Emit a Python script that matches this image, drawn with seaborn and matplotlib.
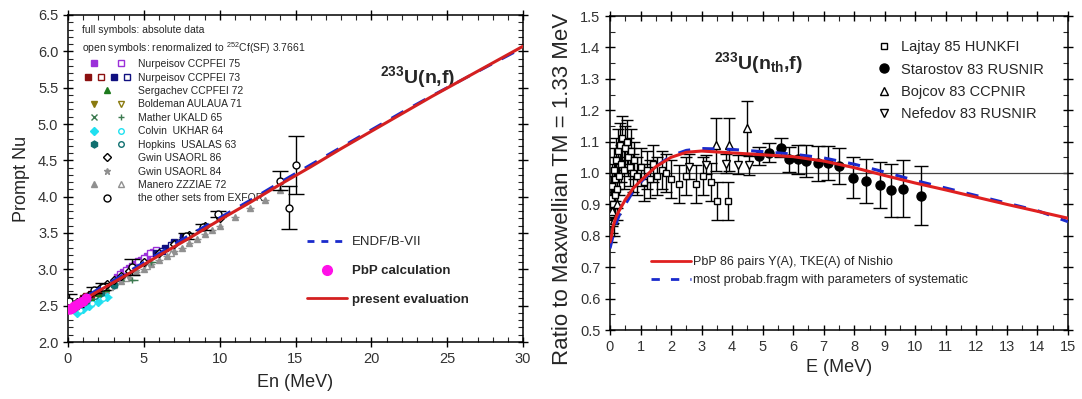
import numpy as np
import pandas as pd
import matplotlib
matplotlib.use("Agg")
import matplotlib.pyplot as plt
from matplotlib.lines import Line2D
from matplotlib.legend_handler import HandlerTuple
from matplotlib.ticker import MultipleLocator
import seaborn as sns

sns.set_style("ticks")
plt.rcParams['font.family'] = ['Liberation Sans', 'DejaVu Sans']
plt.rcParams['mathtext.fontset'] = 'custom'
plt.rcParams['mathtext.rm'] = 'Liberation Sans'
plt.rcParams['mathtext.bf'] = 'Liberation Sans:bold'
plt.rcParams['mathtext.it'] = 'Liberation Sans:italic'

# ================= LEFT PANEL DATA: prompt nu of 233U(n,f) =================
E_eval = [0, 1, 2, 4, 6, 8, 10, 12, 14, 16, 18, 20, 22, 24, 26, 28, 30]
nu_eval = [2.46, 2.58, 2.70, 2.94, 3.19, 3.43, 3.68, 3.92, 4.17, 4.41, 4.66, 4.90, 5.14, 5.38, 5.61, 5.84, 6.07]
nu_endf = [2.47, 2.60, 2.73, 2.97, 3.22, 3.47, 3.71, 3.95, 4.20, 4.44, 4.68, 4.92, 5.16, 5.39, 5.61, 5.83, 6.05]

E_pbp = [0.0, 0.1, 0.25, 0.4, 0.55, 0.7, 0.85, 1.0, 1.2]
nu_pbp = [2.45, 2.46, 2.47, 2.49, 2.51, 2.53, 2.55, 2.57, 2.60]

E_man = [0.5, 1.0, 1.5, 2.0, 2.5, 3.0, 3.5, 4.0, 4.5, 5.0, 5.5, 6.0, 6.5, 7.0, 7.5, 8.0, 8.5, 9.0, 9.5, 10.0, 11.0, 12.0, 13.0, 14.0]
nu_man = [2.48, 2.55, 2.60, 2.66, 2.72, 2.78, 2.84, 2.90, 2.96, 3.01, 3.07, 3.13, 3.19, 3.25, 3.30, 3.36, 3.42, 3.48, 3.54, 3.60, 3.72, 3.84, 3.96, 4.09]
E_man_o = [0.8, 1.8, 2.8, 3.8, 5.2, 6.8]
nu_man_o = [2.53, 2.64, 2.76, 2.88, 3.04, 3.23]

E_nur75 = [3.2, 3.6, 4.0, 4.4, 4.8, 5.2, 5.6]
nu_nur75 = [2.90, 2.96, 3.02, 3.07, 3.13, 3.19, 3.24]
E_nur75_o = [3.4, 3.8, 4.2, 4.6, 5.0, 5.4, 5.8]
nu_nur75_o = [2.93, 2.99, 3.05, 3.11, 3.16, 3.22, 3.27]

E_nur73_r = [1.0, 1.5, 2.0]
nu_nur73_r = [2.60, 2.66, 2.72]
E_nur73_ro = [1.2, 1.8]
nu_nur73_ro = [2.63, 2.70]
E_nur73_b = [5.8, 6.4, 7.0, 7.6]
nu_nur73_b = [3.22, 3.29, 3.37, 3.44]
E_nur73_bo = [6.2, 6.8]
nu_nur73_bo = [3.25, 3.33]

E_serg = [0.5, 1.0, 1.5, 2.0, 2.5]
nu_serg = [2.50, 2.55, 2.62, 2.68, 2.74]

E_bold = [0.2, 0.5, 0.9, 1.3]
nu_bold = [2.47, 2.51, 2.56, 2.61]
E_bold_o = [0.3, 0.7, 1.1]
nu_bold_o = [2.48, 2.53, 2.59]

E_math_x = [1.5, 2.5, 3.5]
nu_math_x = [2.63, 2.76, 2.88]
E_math_p = [4.2, 5.5]
nu_math_p = [2.86, 3.10]

E_colv = [0.6, 1.0, 1.4, 2.0, 2.6]
nu_colv = [2.40, 2.46, 2.50, 2.55, 2.62]
E_colv_o = [0.8, 1.6, 2.3]
nu_colv_o = [2.44, 2.53, 2.60]

E_hopk = [0.4, 1.2, 2.2, 3.0]
nu_hopk = [2.47, 2.56, 2.68, 2.78]
E_hopk_o = [0.8, 1.8]
nu_hopk_o = [2.52, 2.63]

E_gw86 = [0.1, 0.3, 0.6, 1.0, 1.4, 1.8, 2.2, 2.6, 3.0, 3.5, 4.0, 5.0, 6.0, 7.0, 8.0, 9.0, 10.0]
nu_gw86 = [2.49, 2.51, 2.55, 2.60, 2.65, 2.70, 2.75, 2.80, 2.85, 2.91, 2.98, 3.10, 3.22, 3.35, 3.47, 3.59, 3.71]

E_gw84 = [0.5, 1.5, 2.5, 3.5, 4.5]
nu_gw84 = [2.50, 2.62, 2.74, 2.86, 2.98]

E_exf = [0.05, 0.5, 1.7, 2.3, 4.2, 7.8, 8.9, 9.9, 14.0, 14.6, 15.0]
nu_exf = [2.56, 2.52, 2.72, 2.76, 3.03, 3.46, 3.58, 3.76, 4.22, 3.85, 4.43]
err_exf = [0.10, 0.04, 0.04, 0.05, 0.11, 0.04, 0.04, 0.04, 0.13, 0.30, 0.40]

# ================= RIGHT PANEL DATA: ratio to Maxwellian =================
E_pbp86 = [0, 0.05, 0.1, 0.2, 0.3, 0.5, 0.75, 1.0, 1.5, 2.0, 2.5, 3.0, 4.0, 5.0, 6.0, 7.0, 8.0, 9.0, 10.0, 11.0, 12.0, 13.0, 14.0, 15.0]
R_pbp86 = [0.78, 0.80, 0.83, 0.86, 0.88, 0.915, 0.95, 0.975, 1.02, 1.05, 1.066, 1.07, 1.064, 1.058, 1.052, 1.038, 1.017, 0.992, 0.968, 0.946, 0.923, 0.90, 0.878, 0.856]
R_mpf = [0.76, 0.78, 0.80, 0.84, 0.865, 0.90, 0.94, 0.97, 1.02, 1.055, 1.072, 1.078, 1.075, 1.068, 1.06, 1.048, 1.028, 1.003, 0.976, 0.952, 0.928, 0.904, 0.88, 0.845]

E_laj = [0.02, 0.04, 0.06, 0.08, 0.10, 0.12, 0.15, 0.18, 0.20, 0.23, 0.26, 0.30, 0.33, 0.37, 0.40, 0.45, 0.50, 0.55, 0.60, 0.65,
         0.70, 0.75, 0.80, 0.90, 1.00, 1.10, 1.20, 1.30, 1.40, 1.55, 1.70, 1.85, 2.00, 2.26, 2.50, 2.81, 3.05, 3.30, 3.52, 3.88]
R_laj = [0.84, 0.92, 0.87, 0.96, 0.90, 1.01, 0.93, 0.98, 1.04, 0.95, 1.07, 0.99, 1.09, 1.03, 1.11, 1.01, 1.08, 1.10, 1.05, 1.02,
         1.07, 1.00, 1.04, 0.99, 1.02, 0.97, 1.01, 0.98, 1.03, 0.99, 1.01, 1.00, 0.98, 0.964, 0.99, 0.964, 0.99, 0.971, 0.91, 0.91]
err_laj = [0.06, 0.07, 0.06, 0.07, 0.06, 0.07, 0.06, 0.07, 0.07, 0.06, 0.07, 0.06, 0.07, 0.06, 0.07, 0.06, 0.07, 0.07, 0.06, 0.06,
           0.07, 0.06, 0.06, 0.06, 0.06, 0.06, 0.06, 0.06, 0.06, 0.06, 0.06, 0.06, 0.06, 0.06, 0.06, 0.06, 0.06, 0.06, 0.06, 0.06]

E_star = [4.89, 5.22, 5.60, 5.87, 6.15, 6.42, 6.80, 7.13, 7.51, 7.95, 8.39, 8.83, 9.21, 9.60, 10.20]
R_star = [1.054, 1.064, 1.080, 1.043, 1.043, 1.038, 1.031, 1.032, 1.022, 0.985, 0.975, 0.961, 0.945, 0.950, 0.928]
err_star = [0.03, 0.03, 0.03, 0.04, 0.045, 0.05, 0.055, 0.055, 0.058, 0.066, 0.07, 0.074, 0.084, 0.09, 0.095]

E_boj = [0.05, 0.12, 0.22, 3.47, 3.90, 4.50]
R_boj = [0.88, 0.85, 0.90, 1.09, 1.09, 1.143]
err_boj = [0.05, 0.05, 0.05, 0.085, 0.085, 0.087]

E_nef = [2.60, 3.14, 3.80, 4.18, 4.56]
R_nef = [1.02, 1.027, 1.03, 1.027, 1.024]
err_nef = [0.04, 0.03, 0.03, 0.03, 0.03]

# ================= FIGURE =================
W, H = 1082, 399
fig = plt.figure(figsize=(W / 100, H / 100), dpi=100)
fig.patch.set_facecolor('white')
axL = fig.add_axes([68 / W, 1 - 342 / H, (523 - 68) / W, (342 - 15) / H])
axR = fig.add_axes([610 / W, 1 - 330 / H, (1068 - 610) / W, (330 - 16) / H])

PURPLE = '#9b30d9'
DRED = '#8b1010'
NAVY = '#101080'
GREEN = '#1d7a1d'
OLIVE = '#8a7a10'
MGREEN = '#3c7a50'
CYAN = '#20e0f0'
TEAL = '#107070'
GRAY = '#909090'


def pts(ax, x, y, marker, color, filled=True, ms=4.5, xerr=None, yerr=None, zorder=3, cap=0):
    ax.errorbar(x, y, xerr=xerr, yerr=yerr, fmt=marker, color=color, ms=ms,
                mfc=color if filled else 'white', mec=color, mew=1.0,
                elinewidth=1.0, capsize=cap, zorder=zorder, linestyle='none')


# ---- left panel points ----
pts(axL, E_man, nu_man, '^', GRAY, xerr=0.25)
pts(axL, E_man_o, nu_man_o, '^', GRAY, filled=False)
pts(axL, E_gw84, nu_gw84, '*', GRAY, ms=5)
pts(axL, E_colv, nu_colv, 'D', CYAN, ms=4, xerr=0.3)
pts(axL, E_colv_o, nu_colv_o, 'o', CYAN, filled=False, ms=4)
pts(axL, E_hopk, nu_hopk, 'h', TEAL, ms=5, xerr=0.3)
pts(axL, E_hopk_o, nu_hopk_o, 'o', TEAL, filled=False, ms=4)
pts(axL, E_serg, nu_serg, '^', GREEN)
pts(axL, E_bold, nu_bold, 'v', OLIVE)
pts(axL, E_bold_o, nu_bold_o, 'v', OLIVE, filled=False)
pts(axL, E_math_x, nu_math_x, 'x', MGREEN, xerr=0.4)
pts(axL, E_math_p, nu_math_p, '+', MGREEN, xerr=0.4)
pts(axL, E_nur75, nu_nur75, 's', PURPLE, ms=4, xerr=0.2)
pts(axL, E_nur75_o, nu_nur75_o, 's', PURPLE, filled=False, ms=4, xerr=0.2)
pts(axL, E_nur73_r, nu_nur73_r, 's', DRED, ms=4)
pts(axL, E_nur73_ro, nu_nur73_ro, 's', DRED, filled=False, ms=4)
pts(axL, E_nur73_b, nu_nur73_b, 's', NAVY, ms=4, xerr=0.3)
pts(axL, E_nur73_bo, nu_nur73_bo, 's', NAVY, filled=False, ms=4)
pts(axL, E_gw86, nu_gw86, 'D', 'black', filled=False, ms=4, xerr=0.15)
pts(axL, E_exf, nu_exf, 'o', 'black', filled=False, ms=5, yerr=err_exf, cap=6, zorder=4)

sns.lineplot(x=E_eval, y=nu_endf, ax=axL, color='#1a2acc', linewidth=2.0,
             linestyle=(0, (5, 4)), zorder=5)
sns.lineplot(x=E_eval, y=nu_eval, ax=axL, color='#d42020', linewidth=2.2, zorder=6)
sns.scatterplot(x=E_pbp, y=nu_pbp, ax=axL, color='#ff10e8', s=45, edgecolor='#ff10e8', zorder=7)

axL.set_xlim(0, 30)
axL.set_ylim(2.0, 6.5)
axL.xaxis.set_major_locator(MultipleLocator(5))
axL.xaxis.set_minor_locator(MultipleLocator(1))
axL.yaxis.set_major_locator(MultipleLocator(0.5))
axL.yaxis.set_minor_locator(MultipleLocator(0.1))
axL.yaxis.set_major_formatter(matplotlib.ticker.FormatStrFormatter('%.1f'))
axL.set_xlabel('En (MeV)', fontsize=13, labelpad=6)
axL.set_ylabel('Prompt Nu', fontsize=13, labelpad=6)
axL.text(0.685, 0.81, r'$\mathbf{^{233}}$U(n,f)', transform=axL.transAxes,
         fontsize=14, fontweight='bold', ha='left', va='center')

# left legends
def h(marker, color, filled=True, ms=4.5):
    return Line2D([], [], marker=marker, color=color, linestyle='none', ms=ms,
                  mfc=color if filled else 'white', mec=color, mew=1.0)

handlesL = [
    (h('s', PURPLE, ms=4), h('s', PURPLE, False, ms=4)),
    (h('s', DRED, ms=4), h('s', DRED, False, ms=4), h('s', NAVY, ms=4), h('s', NAVY, False, ms=4)),
    (h('^', GREEN),),
    (h('v', OLIVE), h('v', OLIVE, False)),
    (h('x', MGREEN), h('+', MGREEN)),
    (h('D', CYAN, ms=4), h('o', CYAN, False, ms=4)),
    (h('h', TEAL, ms=5), h('o', TEAL, False, ms=4)),
    (h('D', 'black', False, ms=4),),
    (h('*', GRAY, ms=5),),
    (h('^', GRAY), h('^', GRAY, False)),
    (h('o', 'black', False, ms=5),),
]
labelsL = ['Nurpeisov CCPFEI 75', 'Nurpeisov CCPFEI 73', 'Sergachev CCPFEI 72',
           'Boldeman AULAUA 71', 'Mather UKALD 65', 'Colvin  UKHAR 64',
           'Hopkins  USALAS 63', 'Gwin USAORL 86', 'Gwin USAORL 84',
           'Manero ZZZIAE 72', 'the other sets from EXFOR']
leg1 = axL.legend(handlesL, labelsL, handler_map={tuple: HandlerTuple(ndivide=None, pad=0.3)},
                  loc='upper left', bbox_to_anchor=(0.018, 0.99), frameon=False,
                  fontsize=7.5, handlelength=4.8, handletextpad=0.5, labelspacing=0.33,
                  borderaxespad=0.2,
                  title='full symbols: absolute data\nopen symbols: renormalized to $^{252}$Cf(SF) 3.7661',
                  title_fontsize=7.5, alignment='left')
leg1.get_title().set_linespacing(1.45)
axL.add_artist(leg1)

handlesL2 = [Line2D([], [], color='#1a2acc', lw=2.0, linestyle=(0, (2.5, 2.5))),
             Line2D([], [], color='#ff10e8', marker='o', ms=7, linestyle='none'),
             Line2D([], [], color='#d42020', lw=2.0)]
leg2 = axL.legend(handlesL2, ['ENDF/B-VII', 'PbP calculation', 'present evaluation'],
                  loc='upper left', bbox_to_anchor=(0.5, 0.36), frameon=False,
                  fontsize=9.5, handlelength=3.0, handletextpad=0.4, labelspacing=1.25)
leg2.get_texts()[1].set_fontweight('bold')
leg2.get_texts()[2].set_fontweight('bold')

# ---- right panel ----
axR.axhline(1.0, color='#444444', lw=0.9, zorder=1)
pts(axR, E_laj, R_laj, 's', 'black', filled=False, ms=5, yerr=err_laj, cap=4)
pts(axR, E_boj, R_boj, '^', 'black', filled=False, ms=6, yerr=err_boj, cap=4)
pts(axR, E_nef, R_nef, 'v', 'black', filled=False, ms=6, yerr=err_nef, cap=4)
pts(axR, E_star, R_star, 'o', 'black', ms=6.5, yerr=err_star, cap=5)

sns.lineplot(x=E_pbp86, y=R_mpf, ax=axR, color='#1a2acc', linewidth=2.2,
             linestyle=(0, (4, 4)), zorder=5)
sns.lineplot(x=E_pbp86, y=R_pbp86, ax=axR, color='#e02020', linewidth=2.2, zorder=6)

axR.set_xlim(0, 15)
axR.set_ylim(0.5, 1.5)
axR.xaxis.set_major_locator(MultipleLocator(1))
axR.xaxis.set_minor_locator(MultipleLocator(0.5))
axR.yaxis.set_major_locator(MultipleLocator(0.1))
axR.yaxis.set_minor_locator(MultipleLocator(0.05))
axR.yaxis.set_major_formatter(matplotlib.ticker.FormatStrFormatter('%.1f'))
axR.set_xlabel('E (MeV)', fontsize=13, labelpad=4)
axR.set_ylabel('Ratio to Maxwellian TM = 1.33 MeV', fontsize=16)
axR.yaxis.set_label_coords(-0.08, 0.45)
axR.text(0.228, 0.85, r'$\mathbf{^{233}}$U(n$\mathbf{_{th}}$,f)', transform=axR.transAxes,
         fontsize=14, fontweight='bold', ha='left', va='center')

handlesR = [h('s', 'black', False, ms=5), h('o', 'black', True, ms=6.5),
            h('^', 'black', False, ms=6), h('v', 'black', False, ms=6)]
legR1 = axR.legend(handlesR, ['Lajtay 85 HUNKFI', 'Starostov 83 RUSNIR',
                              'Bojcov 83 CCPNIR', 'Nefedov 83 RUSNIR'],
                   loc='upper left', bbox_to_anchor=(0.55, 0.965), frameon=False,
                   fontsize=10.5, handlelength=1.2, handletextpad=0.6, labelspacing=0.58)
axR.add_artist(legR1)
handlesR2 = [Line2D([], [], color='#e02020', lw=2.0),
             Line2D([], [], color='#1a2acc', lw=2.0, linestyle=(0, (3, 4)))]
axR.legend(handlesR2, ['PbP 86 pairs Y(A), TKE(A) of Nishio',
                       'most probab.fragm with parameters of systematic'],
           loc='upper left', bbox_to_anchor=(0.065, 0.27), frameon=False,
           fontsize=9, handlelength=3.2, handletextpad=0.15, labelspacing=0.45)

for ax in (axL, axR):
    for s in ax.spines.values():
        s.set_visible(True)
        s.set_color('black')
        s.set_linewidth(1.1)
    ax.tick_params(which='major', direction='inout', length=7, width=1.0, labelsize=10.5,
                   top=True, right=True, colors='black')
    ax.tick_params(which='minor', direction='in', length=3.5, width=0.8,
                   top=True, right=True)
    ax.tick_params(labelcolor='#333333')
    ax.set_facecolor('white')
    ax.grid(False)

fig.savefig('out.png', dpi=100, facecolor='white')
